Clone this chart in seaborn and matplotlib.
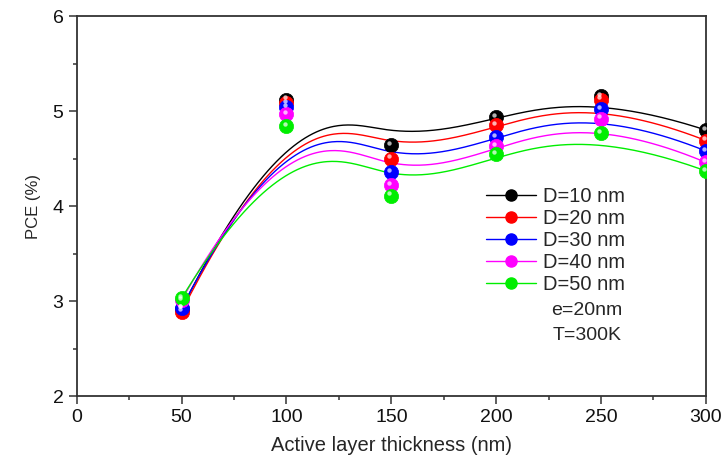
import numpy as np
import pandas as pd
import seaborn as sns
import matplotlib.pyplot as plt
from matplotlib.lines import Line2D
from matplotlib.transforms import offset_copy

# Data
thickness = [50, 100, 150, 200, 250, 300]
labels = ['D=10 nm', 'D=20 nm', 'D=30 nm', 'D=40 nm', 'D=50 nm']
colors = ['#000000', '#ff0000', '#0000ff', '#ff00ff', '#00ee00']
pce_d10 = [2.92, 5.12, 4.64, 4.94, 5.16, 4.80]
pce_d20 = [2.89, 5.08, 4.50, 4.85, 5.12, 4.69]
pce_d30 = [2.93, 5.04, 4.36, 4.73, 5.02, 4.58]
pce_d40 = [3.01, 4.97, 4.22, 4.63, 4.92, 4.46]
pce_d50 = [3.03, 4.84, 4.11, 4.55, 4.77, 4.37]
series = [pce_d10, pce_d20, pce_d30, pce_d40, pce_d50]


def bspline(px, py, k=3, n=300):
    # clamped B-spline using the data points as control points
    m = len(px)
    inner = np.linspace(0, 1, m - k + 1)
    t = np.concatenate([[0] * k, inner, [1] * k])
    u = np.linspace(0, 1, n)
    u[-1] -= 1e-9
    N = np.zeros((n, len(t) - 1))
    for i in range(len(t) - 1):
        N[:, i] = (u >= t[i]) & (u < t[i + 1])
    for d in range(1, k + 1):
        Nn = np.zeros((n, len(t) - 1 - d))
        for i in range(len(t) - 1 - d):
            a = 0 if t[i + d] == t[i] else (u - t[i]) / (t[i + d] - t[i])
            b = 0 if t[i + d + 1] == t[i + 1] else (t[i + d + 1] - u) / (t[i + d + 1] - t[i + 1])
            Nn[:, i] = a * N[:, i] + b * N[:, i + 1]
        N = Nn
    return N @ np.asarray(px, float), N @ np.asarray(py, float)


sns.set_style('ticks')
plt.rcParams['font.family'] = ['Liberation Sans', 'DejaVu Sans']

fig = plt.figure(figsize=(7.24, 4.59), dpi=100)
ax = fig.add_axes([0.106, 0.137, 0.869, 0.828])

# Smooth curves
for lab, col, ys in zip(labels, colors, series):
    cx, cy = bspline(thickness, ys)
    fit = pd.DataFrame({'x': cx, 'y': cy})
    sns.lineplot(data=fit, x='x', y='y', color=col, lw=1.0, sort=False,
                 estimator=None, ax=ax)

# Spherical-looking markers
hl = offset_copy(ax.transData, fig=fig, x=-1.4, y=1.6, units='points')
for lab, col, ys in zip(labels, colors, series):
    pts = pd.DataFrame({'x': thickness, 'y': ys})
    sns.scatterplot(data=pts, x='x', y='y', color=col, s=105, edgecolor=col,
                    linewidth=0.5, ax=ax, zorder=5)
    ax.scatter(thickness, ys, s=10, color='white', alpha=0.7, lw=0,
               transform=hl, zorder=6)

ax.set_xlim(0, 300)
ax.set_ylim(2, 6)
ax.set_xticks(range(0, 301, 50))
ax.set_xticks(range(25, 300, 50), minor=True)
ax.set_yticks([2, 3, 4, 5, 6])
ax.set_yticks([2.5, 3.5, 4.5, 5.5], minor=True)
ax.tick_params(which='major', direction='out', length=6, width=1.1,
               labelsize=14, colors='#333333', labelcolor='#111111')
ax.tick_params(which='minor', direction='out', length=3, width=1.1,
               colors='#333333')
for sp in ax.spines.values():
    sp.set_visible(True)
    sp.set_color('#333333')
    sp.set_linewidth(1.3)
ax.set_xlabel('Active layer thickness (nm)', fontsize=14.5, labelpad=7)
ax.set_ylabel('PCE (%)', fontsize=12, labelpad=8)

handles = []
for c in colors:
    handles.append(Line2D([0], [0], color=c, lw=1.0, marker='o', markersize=8,
                          markerfacecolor=c, markeredgecolor=c))
ax.legend(handles, labels, loc='upper left', bbox_to_anchor=(0.65, 0.55),
          frameon=False, fontsize=14.5, handlelength=2.5, handletextpad=0.35,
          labelspacing=0.15, borderpad=0, borderaxespad=0)
ax.text(0.811, 0.225, 'e=20nm', transform=ax.transAxes, fontsize=14,
        ha='center', va='center')
ax.text(0.812, 0.16, 'T=300K', transform=ax.transAxes, fontsize=14,
        ha='center', va='center')

fig.savefig('out.png', dpi=100)
